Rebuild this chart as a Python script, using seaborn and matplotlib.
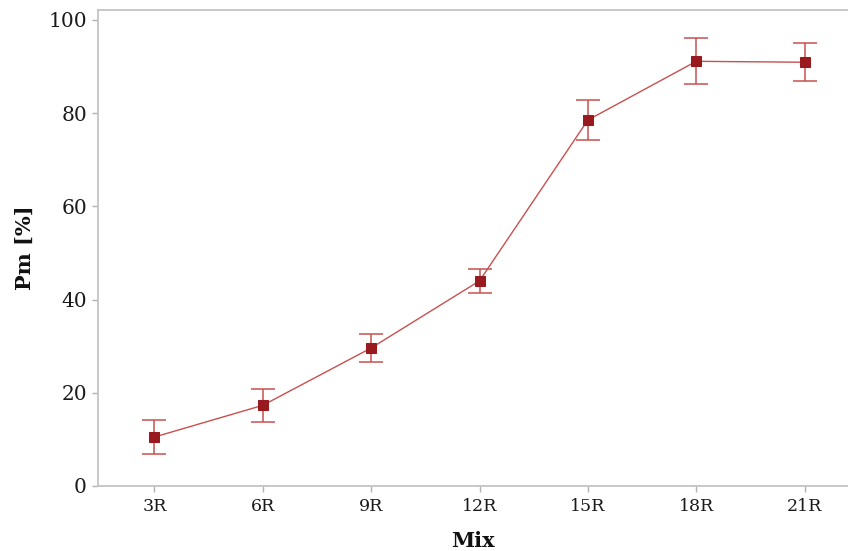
import matplotlib
matplotlib.use("Agg")
import matplotlib.pyplot as plt
import seaborn as sns
import pandas as pd

# Mix designations and measured Pm with standard deviation
mixes = ["3R", "6R", "9R", "12R", "15R", "18R", "21R"]
pm_mean = [10.5, 17.3, 29.6, 44.0, 78.5, 91.1, 90.9]
pm_err = [3.6, 3.5, 2.9, 2.6, 4.3, 4.9, 4.1]
y_ticks = [0, 20, 40, 60, 80, 100]

sns.set_theme(style="white")
plt.rcParams["font.family"] = ["DejaVu Serif"]

df = pd.DataFrame({"Mix": mixes, "Pm": pm_mean})

fig = plt.figure(figsize=(8.48, 5.51), dpi=100)
ax = fig.add_axes([0.1156, 0.118, 0.8844, 0.8638])

line_color = "#c8504f"
mark_color = "#981a1e"

ax.errorbar(mixes, pm_mean, yerr=pm_err, fmt="none", ecolor=line_color,
            elinewidth=1.1, capsize=8.5, capthick=1.1, zorder=2)
sns.lineplot(data=df, x="Mix", y="Pm", sort=False, ax=ax, color=line_color,
             linewidth=1.0, marker="s", markersize=7.5, markerfacecolor=mark_color,
             markeredgecolor=mark_color, zorder=3)

ax.set_xlim(-0.52, 6.4)
ax.set_ylim(0, 102.1)
ax.set_yticks(y_ticks)

for side in ["left", "bottom", "top"]:
    ax.spines[side].set_color("#c4c4c4")
    ax.spines[side].set_linewidth(1.3)
ax.spines["right"].set_visible(False)

ax.tick_params(axis="both", which="major", length=4, width=1, color="#b0b0b0",
               direction="out", bottom=True, left=True, labelcolor="#1a1a1a")
ax.tick_params(axis="y", labelsize=14.5, pad=4)
ax.tick_params(axis="x", labelsize=12.5, pad=5)

ax.set_xlabel("Mix", fontsize=15, fontweight="bold", color="#111111", labelpad=11)
ax.set_ylabel("Pm [%]", fontsize=15, fontweight="bold", color="#111111", labelpad=10)

fig.savefig("out.png", dpi=100)
